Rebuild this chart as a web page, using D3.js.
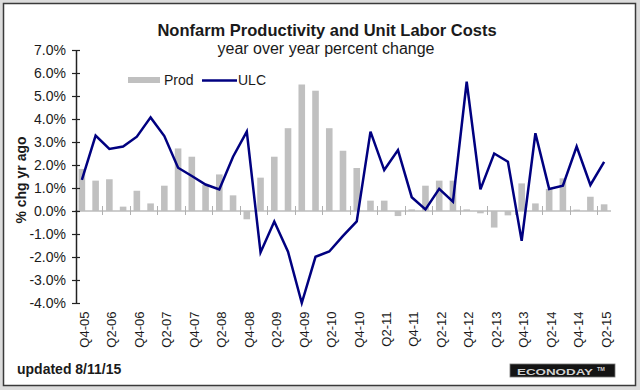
<!DOCTYPE html>
<html>
<head>
<meta charset="utf-8">
<script src="https://cdn.jsdelivr.net/npm/d3@7"></script>
<style>
  html, body { margin: 0; padding: 0; background: #fff; }
  svg { display: block; font-family: "Liberation Sans", Arial, sans-serif; }
</style>
</head>
<body>
<svg id="chart" width="640" height="390"></svg>
<script>
const quarters = ["Q4-05","Q1-06","Q2-06","Q3-06","Q4-06","Q1-07","Q2-07","Q3-07","Q4-07",
  "Q1-08","Q2-08","Q3-08","Q4-08","Q1-09","Q2-09","Q3-09","Q4-09","Q1-10","Q2-10","Q3-10",
  "Q4-10","Q1-11","Q2-11","Q3-11","Q4-11","Q1-12","Q2-12","Q3-12","Q4-12","Q1-13","Q2-13",
  "Q3-13","Q4-13","Q1-14","Q2-14","Q3-14","Q4-14","Q1-15","Q2-15"];
const prod = [1.83,1.32,1.38,0.19,0.88,0.33,1.10,2.72,2.36,1.13,1.59,0.68,-0.36,1.45,2.36,3.60,
  5.50,5.23,3.60,2.62,1.87,0.45,0.45,-0.22,0.07,1.10,1.32,1.32,0.07,-0.10,-0.72,-0.19,1.20,
  0.33,0.96,1.42,0.06,0.62,0.29];
const ulc = [1.35,3.28,2.70,2.80,3.23,4.07,3.26,1.88,1.52,1.15,0.94,2.36,3.45,-1.80,-0.46,-1.77,
  -4.00,-1.99,-1.76,-1.08,-0.45,3.45,1.78,2.65,0.60,0.07,0.96,0.41,5.62,0.94,2.50,2.14,-1.30,
  3.38,0.96,1.10,2.80,1.13,2.14];
const yTicks = [-4,-3,-2,-1,0,1,2,3,4,5,6,7];
const seriesNames = ["Prod","ULC"];
const titleText = "Nonfarm Productivity and Unit Labor Costs";
const subtitleText = "year over year percent change";
const yTitle = "% chg yr ago";
const updatedText = "updated 8/11/15";

const svg = d3.select("#chart");
const W = 640, H = 390;
const barColor = "#c0c0c0", lineColor = "#000080", textColor = "#1a1a1a";

// frame
svg.append("rect").attr("x",0).attr("y",0).attr("width",W).attr("height",H).attr("fill","#dcdcdc");
svg.append("rect").attr("x",3.5).attr("y",3.5).attr("width",632).attr("height",382)
  .attr("fill","#fff").attr("stroke","#3a3a3a").attr("stroke-width",1.5);

const x = d3.scaleBand().domain(quarters).range([75, 611]).paddingInner(0.52).paddingOuter(0.26);
const y = d3.scaleLinear().domain([-4, 7]).range([303, 50]);
const step = x.step();
const cx = q => x(q) + x.bandwidth()/2;

// titles
svg.append("text").attr("x",327).attr("y",35.5).attr("text-anchor","middle")
  .attr("font-size",16.5).attr("font-weight","bold").attr("fill",textColor).text(titleText);
svg.append("text").attr("x",326).attr("y",54).attr("text-anchor","middle")
  .attr("font-size",16).attr("fill",textColor).text(subtitleText);

// bars
svg.append("g").selectAll("rect").data(quarters).join("rect")
  .attr("x", q => x(q))
  .attr("width", x.bandwidth())
  .attr("y", (q,i) => y(Math.max(0, prod[i])))
  .attr("height", (q,i) => Math.abs(y(prod[i]) - y(0)))
  .attr("fill", barColor);

// x axis line at zero
const y0 = y(0);
svg.append("line").attr("x1",75).attr("x2",611).attr("y1",y0).attr("y2",y0)
  .attr("stroke","#bdbdbd").attr("stroke-width",1.5);
// x ticks at every second category boundary
const tickQs = quarters.filter((q,i) => i % 2 === 0 && i > 0);
svg.append("g").selectAll("line").data(tickQs).join("line")
  .attr("x1", q => Math.round(x(q) - (step - x.bandwidth())/2) + 0.5)
  .attr("x2", q => Math.round(x(q) - (step - x.bandwidth())/2) + 0.5)
  .attr("y1", y0 - 5).attr("y2", y0 + 4)
  .attr("stroke","#b0b0b0").attr("stroke-width",1);

// x labels
const labelQs = quarters.filter((q,i) => i % 2 === 0);
svg.append("g").selectAll("text").data(labelQs).join("text")
  .attr("transform", q => `translate(${cx(q)},311.5) rotate(-90)`)
  .attr("text-anchor","end").attr("dy","0.52em")
  .attr("font-size",13).attr("fill",textColor).text(q => q);

// ULC line
const line = d3.line().x((d,i) => cx(quarters[i])).y(d => y(d));
svg.append("path").datum(ulc).attr("d", line).attr("fill","none")
  .attr("stroke", lineColor).attr("stroke-width",2.5).attr("stroke-linejoin","miter");

// y axis
const yAxis = d3.axisLeft(y).tickValues(yTicks).tickFormat(d => d.toFixed(1) + "%")
  .tickSizeInner(4).tickSizeOuter(0).tickPadding(6);
const gy = svg.append("g").attr("transform","translate(76,0)").call(yAxis);
gy.select(".domain").attr("stroke","#222").attr("stroke-width",1.5);
gy.selectAll(".tick line").attr("stroke","#222").attr("stroke-width",1.2);
gy.selectAll(".tick").append("line").attr("x1",0).attr("x2",4).attr("stroke","#222").attr("stroke-width",1.2);
gy.selectAll(".tick text").attr("font-size",14).attr("font-family","Liberation Sans, Arial, sans-serif").attr("fill",textColor);

// y title
svg.append("text").attr("transform","translate(26,180) rotate(-90)").attr("text-anchor","middle")
  .attr("font-size",14).attr("font-weight","bold").attr("fill",textColor).text(yTitle);

// legend
const lg = svg.append("g");
lg.append("rect").attr("x",128).attr("y",77).attr("width",32).attr("height",6).attr("fill",barColor);
lg.append("text").attr("x",164).attr("y",85).attr("font-size",14).attr("fill",textColor).text(seriesNames[0]);
lg.append("line").attr("x1",202).attr("x2",237).attr("y1",80.5).attr("y2",80.5)
  .attr("stroke",lineColor).attr("stroke-width",2.5);
lg.append("text").attr("x",238).attr("y",85).attr("font-size",14).attr("fill",textColor).text(seriesNames[1]);

// updated note
svg.append("text").attr("x",17).attr("y",374).attr("font-size",14).attr("font-weight","bold")
  .attr("fill",textColor).text(updatedText);

// logo
const logo = svg.append("g");
logo.append("rect").attr("x",510).attr("y",364).attr("width",105).attr("height",13)
  .attr("fill","#141414").attr("stroke","#777").attr("stroke-width",0.8);
logo.append("text").attr("x",517).attr("y",374.5).attr("font-size",9.5).attr("font-weight","bold")
  .attr("fill","#d0d0d0").attr("textLength",76).attr("lengthAdjust","spacingAndGlyphs").text("ECONODAY");
logo.append("text").attr("x",597).attr("y",371).attr("font-size",5.5).attr("font-weight","bold")
  .attr("fill","#d0d0d0").text("TM");
</script>
</body>
</html>
